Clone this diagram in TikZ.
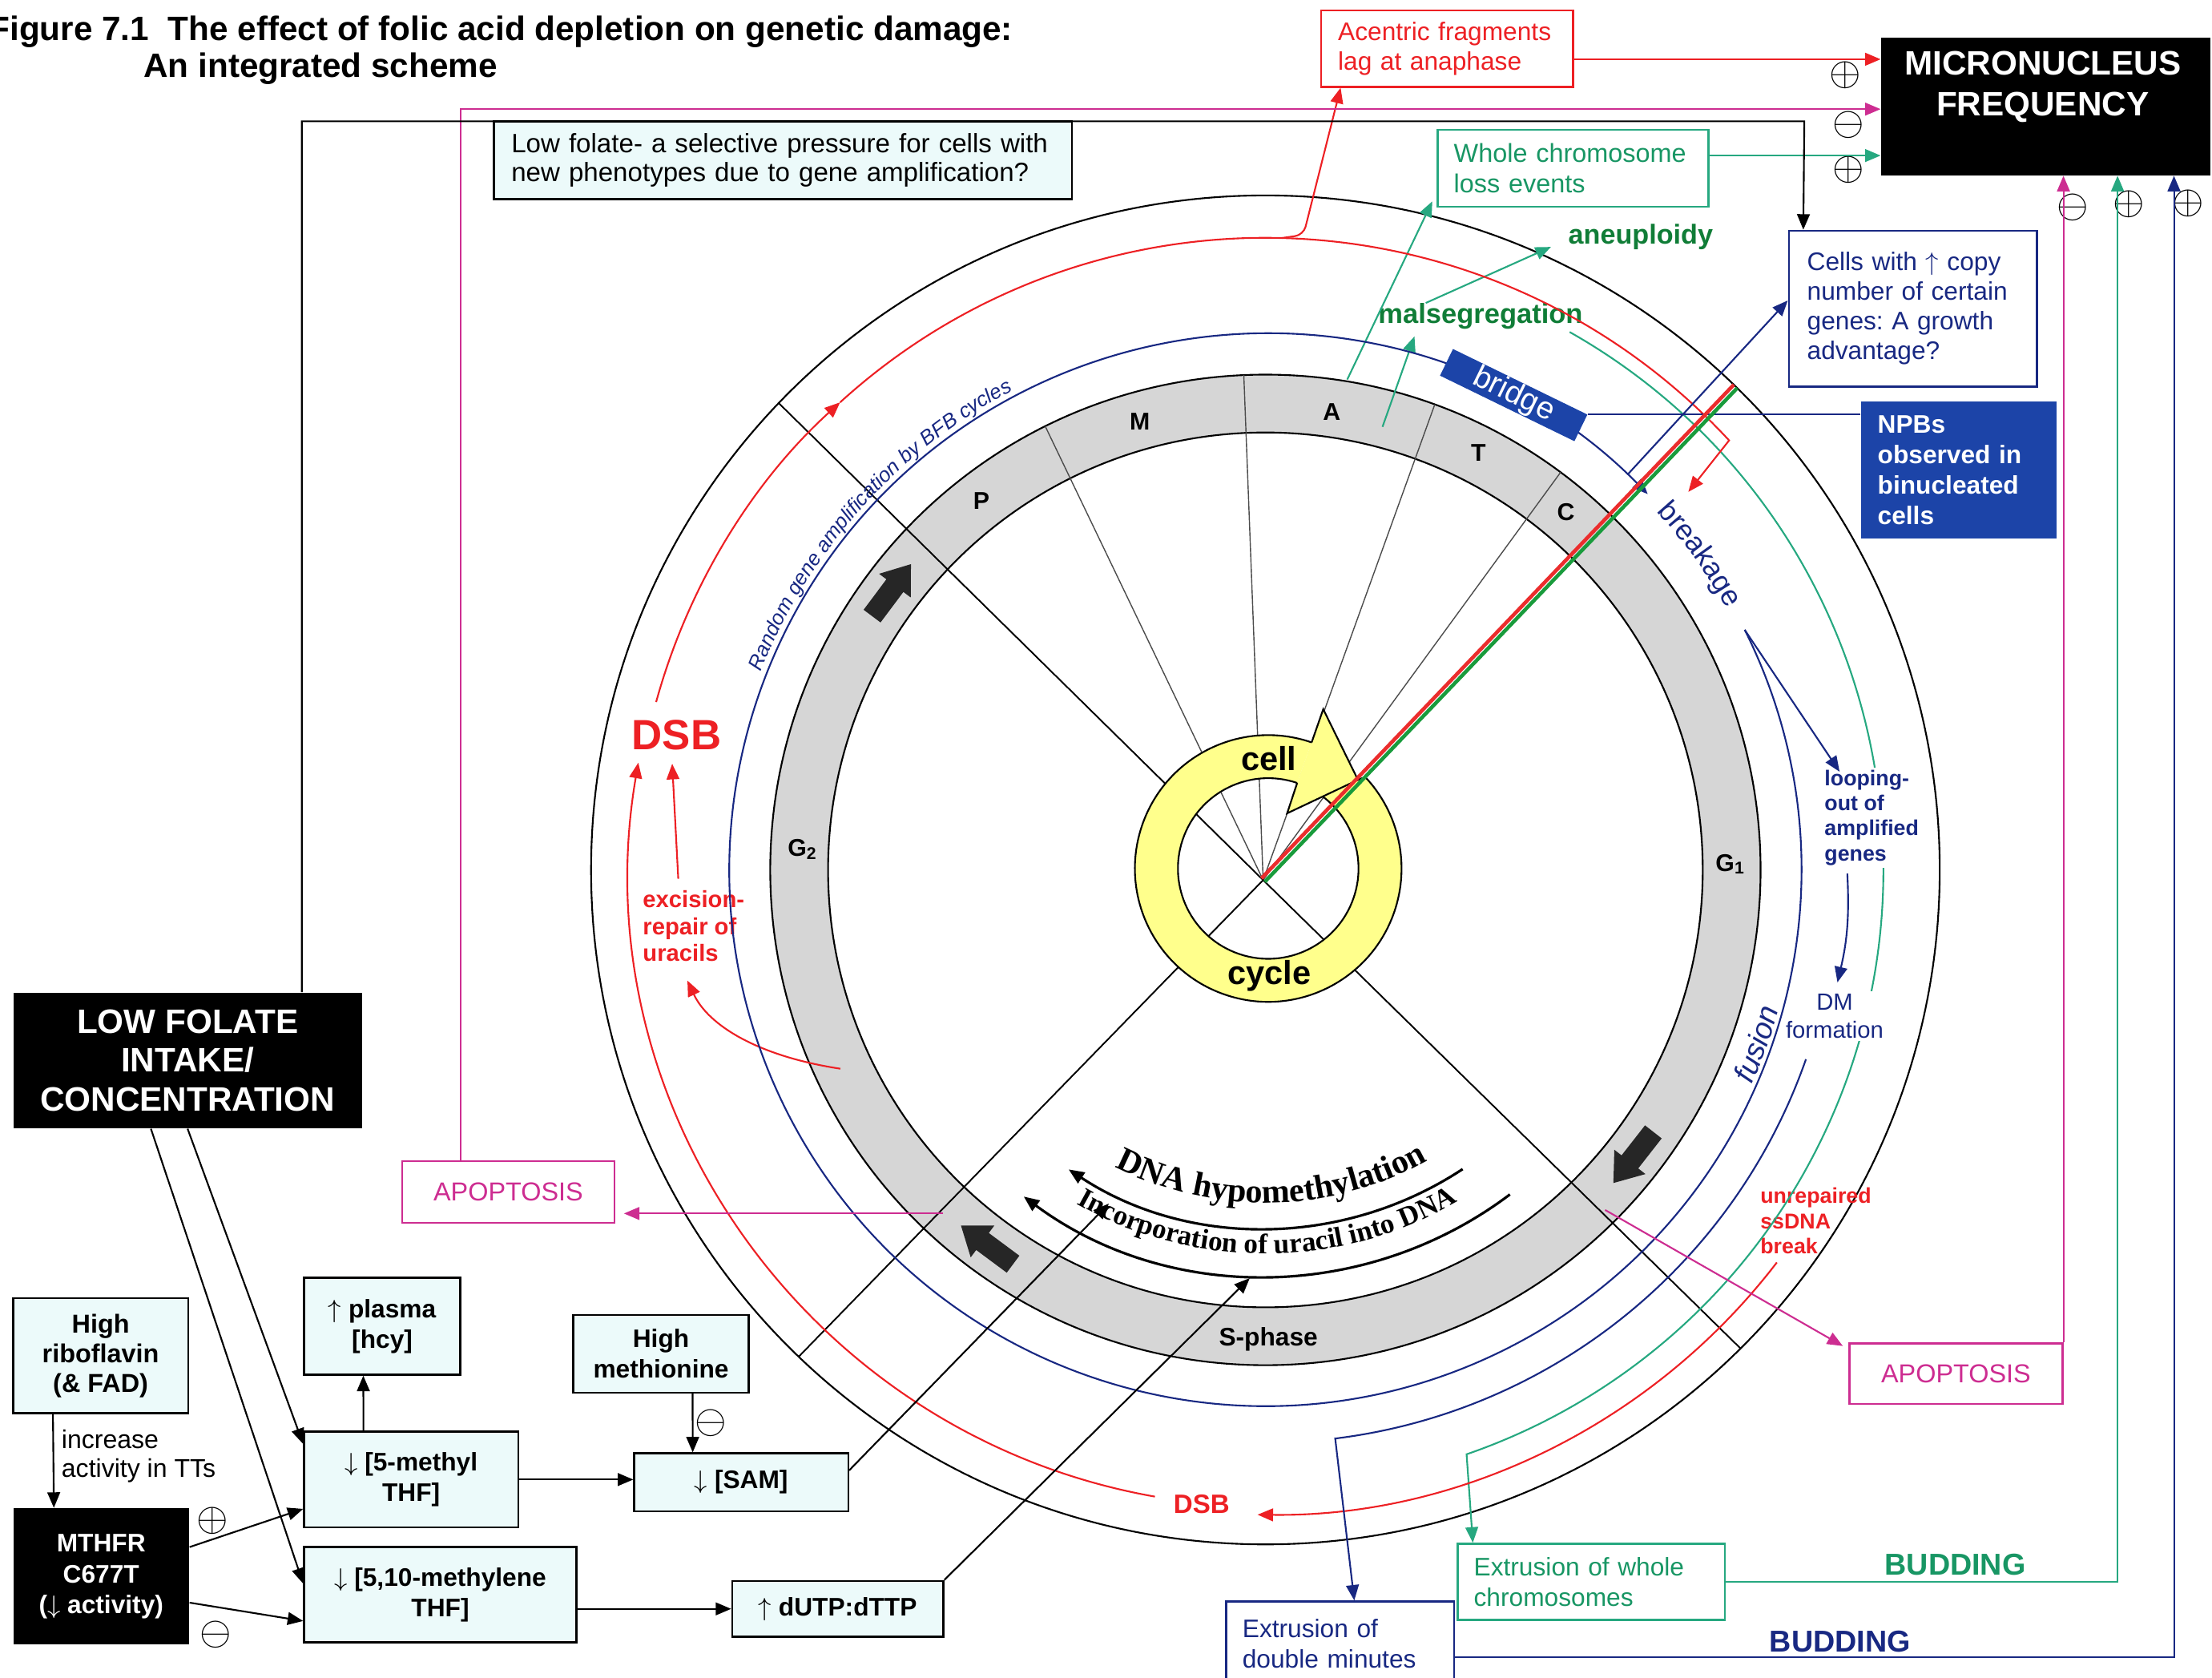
\documentclass[tikz,border=0pt]{standalone}
\usepackage{fontspec}
\setmainfont{Liberation Sans}
\newfontfamily\dnaserif{Liberation Serif}
\usetikzlibrary{arrows.meta,decorations.text}
\frenchspacing

\definecolor{mnred}{RGB}{237,32,36}
\definecolor{bfbblue}{RGB}{24,40,130}
\definecolor{npbblue}{RGB}{28,68,168}
\definecolor{wcteal}{RGB}{38,168,128}
\definecolor{wctext}{RGB}{24,150,100}
\definecolor{aneugreen}{RGB}{16,125,55}
\definecolor{apomag}{RGB}{205,45,145}
\definecolor{boxcyan}{RGB}{236,250,250}
\definecolor{ringgray}{RGB}{214,214,214}
\definecolor{cellyellow}{RGB}{255,255,140}
\definecolor{rgred}{RGB}{235,45,45}
\definecolor{rggreen}{RGB}{25,155,60}

\tikzset{
  arr/.style={-{Triangle[length=5.5pt,width=4.5pt]}},
  spoke/.style={black!70, line width=0.4pt},
  longspoke/.style={black, line width=0.55pt},
  redline/.style={draw=mnred, line width=0.6pt},
  navyline/.style={draw=bfbblue, line width=0.6pt},
  tealline/.style={draw=wcteal, line width=0.6pt},
  magline/.style={draw=apomag, line width=0.6pt},
  chem/.style={draw, line width=0.7pt, fill=boxcyan, align=center, inner sep=0pt, font=\bfseries\fontsize{9}{10.75}\selectfont},
  blackbox/.style={fill=black, text=white, align=center, inner sep=0pt},
  outcome/.style={draw, line width=0.7pt, align=left, inner ysep=0pt, inner xsep=6pt, font=\fontsize{9}{10.75}\selectfont},
  sign/.style={inner sep=0pt, font=\fontsize{13.5}{14}\selectfont},
  phase/.style={inner sep=0pt, font=\bfseries\fontsize{8.6}{9}\selectfont},
}

\begin{document}
\begin{tikzpicture}[x=0.5pt,y=0.5pt]
\useasboundingbox (-897,-572.5) rectangle (671,616.5);
\node[anchor=base west, inner sep=0pt, font=\bfseries\fontsize{12}{14}\selectfont] (title) at (-905,588) {Figure 7.1\ \ The effect of folic acid depletion on genetic damage:};
\node[anchor=base west, inner sep=0pt, font=\bfseries\fontsize{12}{14}\selectfont] (subtitle) at (-795.5,561.5) {An integrated scheme};

\fill[ringgray, even odd rule] (0,0) circle[radius=351] (0,0) circle[radius=310];
\draw[line width=0.6pt] (0,0) circle[radius=351] (0,0) circle[radius=310];
\coordinate (hub) at (-1.6,-7.2);
\foreach \a in {116.4,92.5,70,53.4} \draw[spoke] (hub) -- (\a:351);
\foreach \a in {136.2,226.2,-45.2} \draw[longspoke] (hub) -- (\a:478);
\foreach \a in {143.2,233.4,-38}
  \fill[black!85, shift={(\a:331)}, rotate=\a-90] (-23,-7.5) -- (4,-7.5) -- (4,-14) -- (23,0) -- (4,14) -- (4,7.5) -- (-23,7.5) -- cycle;
\node[phase] (ph-p) at (-201.3,261.5) {P};
\node[phase] (ph-m) at (-89,317.5) {M};
\node[phase] (ph-a) at (47,324.5) {A};
\node[phase] (ph-t) at (151,295.5) {T};
\node[phase] (ph-c) at (213,253.5) {C};
\node[phase] (ph-g2) at (-328,14.5) {G\textsubscript{2}};
\node[phase] (ph-g1) at (329.7,4.1) {G\textsubscript{1}};
\node[phase, font=\bfseries\fontsize{9}{10}\selectfont] (ph-s) at (2.1,-332.8) {S-phase};
\draw[line width=0.6pt] (0,0) circle[radius=478];

\draw[line width=0.9pt, arr] (-56.6:254) arc[start angle=-56.6, end angle=-123.3, radius=254];
\draw[line width=0.9pt, arr] (-53:288) arc[start angle=-53, end angle=-126.5, radius=288];
\path[decorate, decoration={text along path, text align=center, text={|\dnaserif\bfseries\fontsize{12}{14}\selectfont|DNA hypomethylation}}] (-120.85:236) arc[start angle=-120.85, end angle=-56.85, radius=236];
\path[decorate, decoration={text along path, text align=center, text={|\dnaserif\bfseries\fontsize{10}{12}\selectfont|Incorporation of uracil into DNA}}] (-124:272) arc[start angle=-124, end angle=-55.4, radius=272];

\node[draw, line width=0.7pt, fill=boxcyan, text width=192.5pt, inner xsep=6.25pt, inner ysep=0pt, minimum height=27.5pt, align=left, font=\fontsize{9.4}{10}\selectfont] (selbox) at (-342,503) {Low folate- a selective pressure for cells with\\ new phenotypes due to gene amplification?};
\node[outcome, draw=mnred, text=mnred, text width=77.25pt, minimum height=27pt] (acentric) at (128.75,582) {Acentric fragments\\ lag at anaphase};
\node[outcome, draw=wcteal, text=wctext, text width=84.4pt, inner xsep=5.8pt, minimum height=27.25pt, font=\fontsize{9.2}{10.75}\selectfont] (wholechr) at (218,497.25) {Whole chromosome\\ loss events};
\node[fill=black, minimum width=116.75pt, minimum height=48.85pt, inner sep=0pt] (mnf) at (553.25,541.15) {};
\node[text=white, align=center, inner sep=0pt, font=\bfseries\fontsize{12}{14.5}\selectfont] (mnf-label) at (551,555) {MICRONUCLEUS\\FREQUENCY};
\node[outcome, draw=bfbblue, text=bfbblue, text width=75pt, inner xsep=6.5pt, minimum height=55.25pt, font=\fontsize{9}{10.5}\selectfont] (cells) at (459,397.75) {Cells with $\uparrow$ copy\\ number of certain\\ genes: A growth\\ advantage?};
\node[fill=npbblue, text=white, text width=57.5pt, inner xsep=6pt, inner ysep=0pt, minimum height=48.5pt, align=left, font=\bfseries\fontsize{9}{10.8}\selectfont] (npbs) at (491.5,283.5) {NPBs\\ observed in\\ binucleated\\ cells};
\node[text=aneugreen, inner sep=0pt, font=\bfseries\fontsize{9.7}{11}\selectfont] (aneu) at (266,448.5) {aneuploidy};
\node[text=aneugreen, inner sep=0pt, font=\bfseries\fontsize{9.8}{11}\selectfont] (malseg) at (152.5,392.2) {malsegregation};
\node[sign] (sgn1) at (411.3,563.3) {$\oplus$};
\node[sign] (sgn2) at (413.4,527.8) {$\ominus$};
\node[sign] (sgn3) at (413.4,496.1) {$\oplus$};
\node[sign] (sgn4) at (572.4,469.5) {$\ominus$};
\node[sign] (sgn5) at (612,472) {$\oplus$};
\node[sign] (sgn6) at (654,472.5) {$\oplus$};
\node[sign] (sgn7) at (-746.4,-461.1) {$\oplus$};
\node[sign] (sgn8) at (-744,-542.1) {$\ominus$};
\node[sign] (sgn9) at (-393.4,-392) {$\ominus$};

\node[blackbox, minimum width=123.6pt, minimum height=48pt, font=\bfseries\fontsize{12}{13.75}\selectfont] (folate) at (-764,-135.05) {LOW FOLATE\\ INTAKE/\\ CONCENTRATION};
\node[chem, minimum width=62pt, minimum height=40.8pt, font=\bfseries\fontsize{9.2}{10.5}\selectfont] (ribo) at (-825.65,-344.3) {High\\ riboflavin\\ (\& FAD)};
\node[anchor=west, inner sep=0pt, align=left, font=\fontsize{9.1}{10}\selectfont] (tts) at (-853.7,-415.5) {increase\\ activity in TTs};
\node[blackbox, minimum width=62.3pt, minimum height=48.3pt, font=\bfseries\fontsize{9}{10.9}\selectfont] (mthfr) at (-825.3,-500.8) {MTHFR\\ C677T\\ ($\downarrow$ activity)};
\node[chem, minimum width=55.35pt, minimum height=34.3pt] (plasma) at (-626.05,-323.4) {$\uparrow$ plasma\\{}[hcy]};
\node[chem, minimum width=75.85pt, minimum height=33.95pt] (meth5) at (-605.55,-432.05) {$\downarrow$ [5-methyl\\ THF]};
\node[chem, minimum width=62.15pt, minimum height=27.5pt] (methio) at (-428.45,-343) {High\\ methionine};
\node[chem, minimum width=75.85pt, minimum height=20.5pt] (sam) at (-371.55,-434) {$\downarrow$ [SAM]};
\node[chem, minimum width=96.5pt, minimum height=33.8pt] (methylene) at (-584.9,-513.7) {$\downarrow$ [5,10-methylene\\ THF]};
\node[chem, minimum width=74.85pt, minimum height=19.8pt] (dutp) at (-303.15,-523.7) {$\uparrow$ dUTP:dTTP};
\node[draw=apomag, line width=0.7pt, text=apomag, minimum width=75.3pt, minimum height=21.85pt, inner sep=0pt, font=\fontsize{9.2}{11}\selectfont] (apopL) at (-536.7,-228.35) {APOPTOSIS};
\node[draw=apomag, line width=0.7pt, text=apomag, minimum width=75.5pt, minimum height=21.5pt, inner sep=0pt, font=\fontsize{9.2}{11}\selectfont] (apopR) at (489.5,-357) {APOPTOSIS};
\node[outcome, draw=wcteal, text=wctext, text width=83.25pt, inner xsep=5.75pt, minimum height=27pt] (extwc) at (231,-504.5) {Extrusion of whole\\ chromosomes};
\node[outcome, draw=bfbblue, text=bfbblue, text width=69.25pt, inner xsep=5.75pt, minimum height=30pt] (extdm) at (53,-548.5) {Extrusion of\\ double minutes};
\node[text=wctext, inner sep=0pt, font=\bfseries\fontsize{10.7}{12}\selectfont] (budwc) at (489,-492.5) {BUDDING};
\node[text=bfbblue, inner sep=0pt, font=\bfseries\fontsize{10.7}{12}\selectfont] (buddm) at (407.4,-546.8) {BUDDING};
\node[anchor=west, inner sep=0pt, align=left, text=mnred, font=\bfseries\fontsize{7.6}{9}\selectfont] (unrep) at (350.5,-248.8) {unrepaired\\ ssDNA\\ break};
\node[anchor=west, inner sep=0pt, align=left, text=mnred, font=\bfseries\fontsize{8.3}{9.5}\selectfont] (excision) at (-441.7,-39.75) {excision-\\ repair of\\ uracils};
\node[inner sep=0pt, text=mnred, font=\bfseries\fontsize{15}{18}\selectfont] (dsbL) at (-417.4,95.7) {DSB};
\node[inner sep=0pt, text=mnred, font=\bfseries\fontsize{9.4}{11}\selectfont] (dsbB) at (-45.2,-449.5) {DSB};

\draw[tealline, arr] (60.5:438) arc[start angle=60.5, end angle=-71, radius=438] -- ([xshift=5.75pt]extwc.north west);
\draw[tealline, arr] (58,347.5) -- ([xshift=-1.5pt,yshift=2.25pt]wholechr.south west);
\draw[tealline, arr] (83,314) -- ([xshift=13pt,yshift=-2.25pt]malseg.south west);
\draw[tealline, arr] ([xshift=17pt]malseg.north west) -- ([xshift=-6pt,yshift=-3.5pt]aneu.west);
\coordinate (wc-out) at ([yshift=4.5pt]wholechr.east);
\draw[tealline, arr] (wc-out) -- (wc-out -| mnf.west);
\draw[tealline, arr] (extwc.east) -| ([xshift=25.4pt]mnf.south);

\node[anchor=north west, fill=white, inner sep=1pt, align=left, text=bfbblue, font=\bfseries\fontsize{7.6}{8.85}\selectfont] (loop) at (394,73) {looping-\\ out of\\ amplified\\ genes};
\node[fill=white, inner sep=1pt, align=center, text=bfbblue, font=\fontsize{8.3}{9.8}\selectfont] (dmform) at (403.5,-103.7) {DM\\ formation};

\draw[redline, arr] (260:451) arc[start angle=260, end angle=170.3, radius=451];
\draw[redline, arr] (164.6:448) arc[start angle=164.6, end angle=132.3, radius=448];
\coordinate (rg-hit) at (299.8,267.9);
\draw[redline, arr] (132.3:448) arc[start angle=132.3, end angle=42.8, radius=448] -- (rg-hit);
\draw[redline, arr, rounded corners=3pt] (88.5:448) -- (27,450) -- ([xshift=7.25pt]acentric.south west);
\draw[redline, arr] ([xshift=12.75pt,yshift=4pt]excision.north west) -- ([xshift=-1.55pt,yshift=-4.75pt]dsbL.south);
\draw[redline, arr] (-301.3,-140.9) .. controls (-360,-132) and (-395,-110) .. ([xshift=16pt,yshift=-6.6pt]excision.south west);
\draw[redline, arr] (-37.5:457) arc[start angle=-37.5, end angle=-90.7, radius=457];
\coordinate (ac-out) at ([yshift=-3.75pt]acentric.east);
\draw[redline, arr] (ac-out) -- (ac-out -| mnf.west);

\draw[navyline, arr] (26.6:380) arc[start angle=26.6, end angle=-315.5, radius=380];
\draw[navyline, arr] (26.6:380) -- ([xshift=6.5pt,yshift=-1.7pt]loop.north west);
\draw[navyline, arr] ([xshift=9.25pt,yshift=-1.75pt]loop.south west) to[bend left=8] ([xshift=1pt,yshift=3pt]dmform.north);
\draw[navyline, arr] (-19.3:406) arc[start angle=-19.3, end angle=-83, radius=406] -- ([xshift=5pt]extdm.north);
\draw[navyline, arr] (47.5:380) -- ([yshift=2.9pt]cells.west);
\draw[navyline, arr] ([yshift=-4.8pt]extdm.east) -| ([xshift=45.4pt]mnf.south);
\node[fill=npbblue, text=white, minimum width=53pt, minimum height=10.5pt, inner sep=0pt, rotate=-26, font=\fontsize{11}{11}\selectfont] (bridge) at (176,336.5) {bridge};
\draw[navyline] (bridge.north east) -- (bridge.north east -| npbs.west);
\path[decorate, decoration={text along path, text align=center, text color=bfbblue, text={|\fontsize{10.2}{12}\selectfont|breakage}}] (44:376) arc[start angle=44, end angle=28, radius=376];
\path[decorate, decoration={text along path, text align=center, text color=bfbblue, text={|\itshape\fontsize{10.6}{12}\selectfont|fusion}}] (-25:377) arc[start angle=-25, end angle=-14, radius=377];
\path[decorate, decoration={text along path, text align=center, text color=bfbblue, text={|\itshape\fontsize{7.3}{8}\selectfont|Random gene amplification by BFB cycles}}] (160.2:384) arc[start angle=160.2, end angle=116.2, radius=384];

\begin{scope}[shift={(2,1)}]
\fill[cellyellow] (71:94.5) arc[start angle=71, end angle=403.4, radius=94.5] -- (412.9:64) arc[start angle=412.9, end angle=71.3, radius=64] -- cycle;
\fill[cellyellow] (71:94.5) -- (39,112.9) -- (63.6,62.8) -- (13.4,39.1) -- (71.3:64) -- cycle;
\draw[line width=0.6pt] (71:94.5) arc[start angle=71, end angle=403.4, radius=94.5] -- (63.6,62.8);
\draw[line width=0.6pt] (71.3:64) arc[start angle=71.3, end angle=412.9, radius=64];
\draw[line width=0.6pt] (71:94.5) -- (39,112.9) -- (63.6,62.8) -- (13.4,39.1) -- (71.3:64);
\end{scope}
\coordinate (rgend) at (45.8:478);
\draw[rggreen, line width=1.3pt] ([xshift=0.6pt,yshift=-0.6pt]hub) -- ([xshift=0.6pt,yshift=-0.6pt]rgend);
\draw[rgred, line width=1.3pt] ([xshift=-0.6pt,yshift=0.6pt]hub) -- ([xshift=-0.6pt,yshift=0.6pt]rgend);
\node[inner sep=0pt, font=\bfseries\fontsize{11.8}{13}\selectfont] (cell) at (2.4,78.9) {cell};
\node[inner sep=0pt, font=\bfseries\fontsize{11.8}{13}\selectfont] (cycle) at (2.7,-75.2) {cycle};

\coordinate (g2s-pt) at (-228.4,-243.5);
\draw[magline, arr, shorten >=3pt] (g2s-pt) -- (g2s-pt -| apopL.east);
\coordinate (sg1-pt) at (240.8,-241);
\draw[magline, arr] (sg1-pt) -- ([xshift=-2pt,yshift=-1.3pt]apopR.north west);
\draw[magline, arr] (apopR.north east) -- (apopR.north east |- mnf.south);
\draw[magline, arr] ([xshift=-16.95pt]apopL.north) |- ([yshift=-1pt]mnf.west);

\draw[line width=0.6pt, arr] ([xshift=40.5pt]folate.north) -- (-683,530.5) -- (382,530.5) -- ([xshift=5.5pt]cells.north west);
\draw[line width=0.6pt, arr] ([xshift=-16.9pt]ribo.south) -- ([xshift=-16.75pt]mthfr.north);
\draw[line width=0.6pt, arr] (folate.south) -- ([yshift=-4.7pt]meth5.north west);
\draw[line width=0.6pt, arr] ([xshift=-13pt]folate.south) -- ([yshift=-13.3pt]methylene.north west);
\draw[line width=0.6pt, arr] ([yshift=10.45pt]mthfr.east) -- ([yshift=-10.4pt]meth5.west);
\draw[line width=0.6pt, arr] ([yshift=-9.25pt]mthfr.east) -- ([yshift=-9.3pt]methylene.west);
\draw[line width=0.6pt, arr] ([xshift=-16.9pt]meth5.north) -- ([xshift=-6.7pt]plasma.south);
\draw[line width=0.6pt, arr] (meth5.east) -- (meth5.east -| sam.west);
\draw[line width=0.6pt, arr] ([xshift=11.2pt]methio.south) -- ([xshift=-17.2pt]sam.north);
\draw[line width=0.6pt, arr] (dutp.west -| methylene.east) -- (dutp.west);
\coordinate (hypo-in) at (-111,-236.5);
\coordinate (uracil-in) at (-11.1,-289.3);
\draw[line width=0.6pt, arr] ([yshift=4.25pt]sam.east) -- (hypo-in);
\draw[line width=0.6pt, arr] (dutp.north east) -- (uracil-in);
\end{tikzpicture}
\end{document}
